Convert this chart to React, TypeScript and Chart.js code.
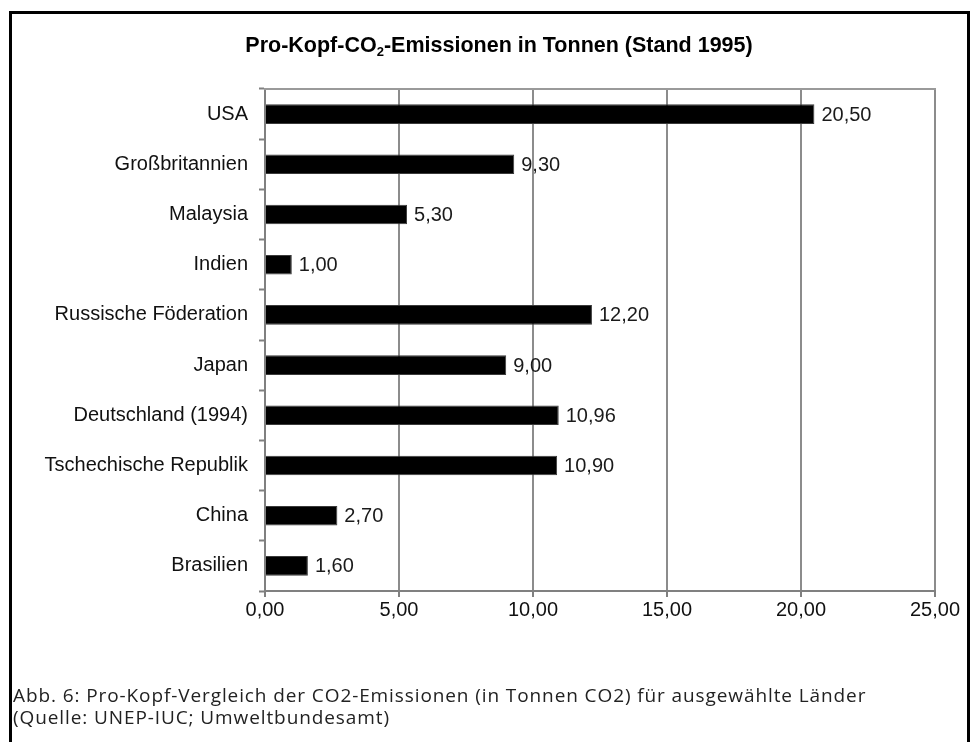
import React, { useEffect, useRef } from "react";
import { Chart, registerables } from "chart.js";

Chart.register(...registerables);

const countries = [
  "USA",
  "Großbritannien",
  "Malaysia",
  "Indien",
  "Russische Föderation",
  "Japan",
  "Deutschland (1994)",
  "Tschechische Republik",
  "China",
  "Brasilien",
];
const emissions = [20.5, 9.3, 5.3, 1.0, 12.2, 9.0, 10.96, 10.9, 2.7, 1.6];
const axisMin = 0;
const axisMax = 25;
const axisStep = 5;
const titleBefore = "Pro-Kopf-CO";
const titleSub = "2";
const titleAfter = "-Emissionen in Tonnen (Stand 1995)";
const captionLines = [
  "Abb. 6: Pro-Kopf-Vergleich der CO2-Emissionen (in Tonnen CO2) für ausgewählte Länder",
  "(Quelle: UNEP-IUC; Umweltbundesamt)",
];

const FONT = "'Liberation Sans', Arial, Helvetica, sans-serif";
const fmt = (v: number) => v.toFixed(2).replace(".", ",");

const valueLabels = {
  id: "valueLabels",
  afterDatasetsDraw(chart: any) {
    const ctx = chart.ctx;
    const meta = chart.getDatasetMeta(0);
    ctx.save();
    ctx.font = `20px ${FONT}`;
    ctx.fillStyle = "#1a1a1a";
    ctx.textAlign = "left";
    ctx.textBaseline = "middle";
    meta.data.forEach((bar: any, i: number) => {
      ctx.fillText(fmt(emissions[i]), bar.x + 7, bar.y + 1);
    });
    ctx.restore();
  },
};

const topFrame = {
  id: "topFrame",
  beforeDatasetsDraw(chart: any) {
    const { left, right, top } = chart.chartArea;
    const ctx = chart.ctx;
    ctx.save();
    ctx.strokeStyle = "#9a9a9a";
    ctx.lineWidth = 2;
    ctx.beginPath();
    ctx.moveTo(left - 1, top);
    ctx.lineTo(right + 1, top);
    ctx.stroke();
    ctx.restore();
  },
};

export default function App() {
  const canvasRef = useRef<HTMLCanvasElement | null>(null);

  useEffect(() => {
    if (!canvasRef.current) return;
    const chart = new Chart(canvasRef.current, {
      type: "bar",
      data: {
        labels: countries,
        datasets: [
          {
            data: emissions,
            backgroundColor: "#000000",
            borderColor: "#3a3a3a",
            borderWidth: 1,
            categoryPercentage: 1,
            barPercentage: 0.39,
          },
        ],
      },
      plugins: [valueLabels, topFrame],
      options: {
        indexAxis: "y",
        responsive: false,
        animation: false,
        devicePixelRatio: 1,
        layout: { padding: { left: 0, right: 40, top: 89, bottom: 111 } },
        plugins: {
          legend: { display: false },
          tooltip: { enabled: false },
          title: { display: false },
        },
        scales: {
          y: {
            type: "category",
            grid: {
              display: true,
              drawOnChartArea: false,
              drawTicks: true,
              tickLength: 6,
              tickColor: "#808080",
              tickWidth: 2,
              offset: true,
            },
            border: { display: true, color: "#808080", width: 2 },
            ticks: {
              color: "#111",
              font: { family: FONT, size: 20 },
              padding: 11,
            },
            afterFit(scale: any) {
              scale.width = 265;
            },
          },
          x: {
            type: "linear",
            min: axisMin,
            max: axisMax,
            grid: {
              color: "#8c8c8c",
              lineWidth: 2,
              drawTicks: true,
              tickLength: 6,
              tickColor: "#808080",
            },
            border: { display: true, color: "#808080", width: 2 },
            ticks: {
              stepSize: axisStep,
              color: "#111",
              font: { family: FONT, size: 20 },
              padding: 1,
              callback: (v: any) => fmt(Number(v)),
            },
            afterFit(scale: any) {
              scale.height = 40;
            },
          },
        },
      },
    } as any);
    return () => chart.destroy();
  }, []);

  return (
    <div
      style={{
        position: "fixed",
        left: 0,
        top: 0,
        width: 975,
        height: 742,
        overflow: "hidden",
        background: "#fff",
      }}
    >
      <canvas
        ref={canvasRef}
        width={975}
        height={742}
        style={{ position: "absolute", left: 0, top: 0, width: 975, height: 742 }}
      />
      <div
        style={{
          position: "absolute",
          left: 0,
          width: 998,
          top: 31,
          textAlign: "center",
          fontFamily: FONT,
          fontWeight: "bold",
          fontSize: 21.5,
          lineHeight: "28px",
          color: "#000",
          whiteSpace: "nowrap",
        }}
      >
        {titleBefore}
        <span style={{ fontSize: 13, position: "relative", top: 4 }}>{titleSub}</span>
        {titleAfter}
      </div>
      <div
        style={{
          position: "absolute",
          left: 9,
          top: 11,
          width: 955,
          height: 800,
          border: "3px solid #000",
          pointerEvents: "none",
        }}
      />
      <div
        style={{
          position: "absolute",
          left: 13,
          top: 684,
          fontFamily: "'Open Sans', sans-serif",
          fontSize: 19,
          lineHeight: "22px",
          color: "#222",
          letterSpacing: 0.9,
          whiteSpace: "nowrap",
        }}
      >
        {captionLines.map((l, i) => (
          <div key={i}>{l}</div>
        ))}
      </div>
    </div>
  );
}
